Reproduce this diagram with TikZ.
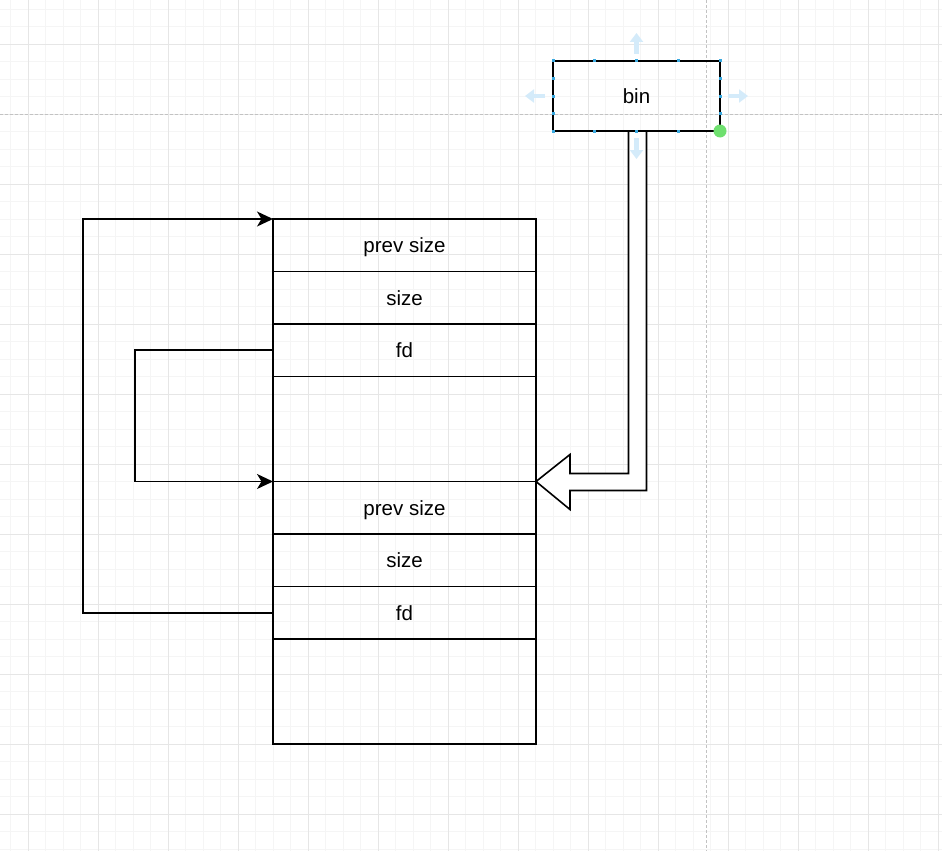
\documentclass[tikz,border=0pt]{standalone}
\usepackage{fontspec}
\setmainfont{Liberation Sans}
\usetikzlibrary{arrows.meta,positioning}
\definecolor{gridminor}{HTML}{F5F5F5}
\definecolor{gridmajor}{HTML}{E6E6E6}
\definecolor{guide}{HTML}{C2C2C2}
\definecolor{handle}{HTML}{3AA9E0}
\definecolor{hover}{HTML}{D4EBFA}
\definecolor{pick}{HTML}{6FE06F}

\begin{document}
\begin{tikzpicture}[
				x=1pt,y=-1pt,
				every node/.style={font=\fontsize{20.5}{24}\selectfont},
				row/.style={
					draw=black,
					line width=1.6pt,
					minimum width=263pt,
					minimum height=52.5pt,
					text height=15pt,
					text depth=0pt,
					inner sep=0pt,
					outer sep=0pt
				},
				gap/.style={row,minimum height=105pt},
				box/.style={
					draw=black,
					line width=1.6pt,
					minimum width=167pt,
					minimum height=70pt,
					text height=15pt,
					text depth=0pt,
					outer sep=0pt
				},
				arrow/.style={
					-{Stealth[length=16pt,width=15pt,inset=4.5pt]},
					line width=1.6pt
				},
				bigarrow/.style={draw=black,fill=white,line width=1.6pt,line join=miter},
				hoverarrow/.style={draw=hover,line width=4.5pt,-{Triangle[length=9pt,width=13pt]}}
				]
				\useasboundingbox[fill=white] (0,0) rectangle (942,851);
				% grid
				\foreach \x in {10.5,28,...,942} \draw[gridminor,line width=0.8pt] (\x,0) -- (\x,851);
				\foreach \y in {9,26.5,...,851} \draw[gridminor,line width=0.8pt] (0,\y) -- (942,\y);
				\foreach \x in {28,98,...,942} \draw[gridmajor,line width=0.8pt] (\x,0) -- (\x,851);
				\foreach \y in {44,114,...,851} \draw[gridmajor,line width=0.8pt] (0,\y) -- (942,\y);
				\draw[guide,line width=0.8pt,dash pattern=on 3pt off 2pt] (0,114) -- (942,114);
				\draw[guide,line width=0.8pt,dash pattern=on 3pt off 2pt] (706,0) -- (706,851);
				
				% chunks
				\node[row,anchor=north west] (prev1) at (273,219) {prev size};
				\node[row,below=0pt of prev1] (size1) {size};
				\node[row,below=0pt of size1] (fd1) {fd};
				\node[gap,below=0pt of fd1] (data1) {};
				\node[row,below=0pt of data1] (prev2) {prev size};
				\node[row,below=0pt of prev2] (size2) {size};
				\node[row,below=0pt of size2] (fd2) {fd};
				\node[gap,below=0pt of fd2] (data2) {};
				
				\coordinate (outer) at (83,0);
				\coordinate (inner) at (135,0);
				\draw[arrow] (fd2.west) -- (fd2.west -| outer) |- (prev1.north west);
				\draw[arrow] (fd1.west) -- (fd1.west -| inner) |- (prev2.north west);
				
				% bin
				\node[box] (bin) at (636.5,96) {bin};
				\coordinate (tip) at (prev2.north east);
				\draw[bigarrow] (tip) -- ++(34,-27) -- ++(0,19)
				-| ([xshift=-8pt]bin.south) -- ([xshift=10pt]bin.south)
				|- ([xshift=34pt,yshift=-9pt]tip) -- ++(0,19) -- cycle;
				
				% selection
				\draw[hoverarrow] (636.5,54) -- (636.5,33);
				\draw[hoverarrow] (545,96) -- (525,96);
				\draw[hoverarrow] (728,96) -- (748,96);
				\draw[hoverarrow] (636.5,138) -- (636.5,159);
				\foreach \x in {553,594.75,636.5,678.25,720} {
					\fill[handle] (\x-1.5,59.5) rectangle (\x+1.5,62.5);
					\fill[handle] (\x-1.5,129.5) rectangle (\x+1.5,132.5);
				}
				\foreach \y in {78.5,96,113.5} {
					\fill[handle] (551.5,\y-1.5) rectangle (554.5,\y+1.5);
					\fill[handle] (718.5,\y-1.5) rectangle (721.5,\y+1.5);
				}
				\fill[pick] (720,131) circle (6.5);
			\end{tikzpicture}
\end{document}
